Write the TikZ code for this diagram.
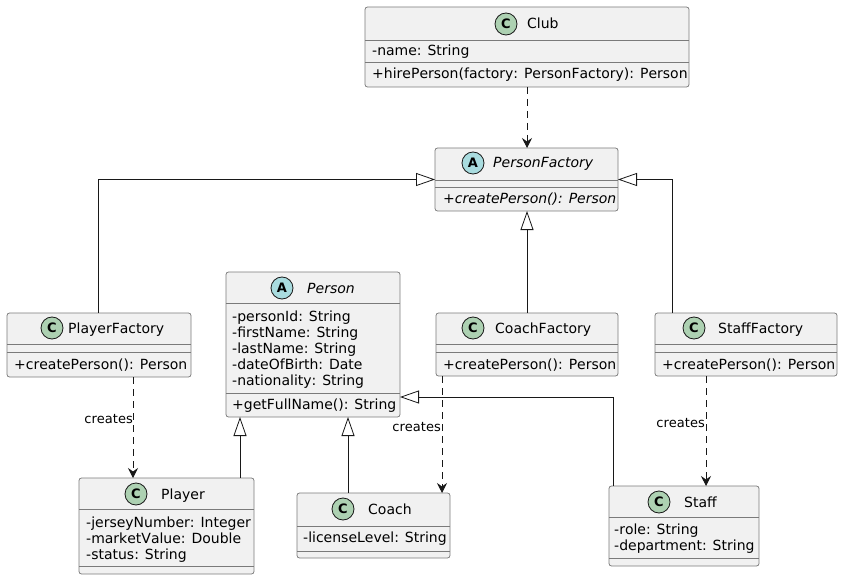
\documentclass[tikz,border=0pt]{standalone}
\usepackage{fontspec}
\setmainfont{DejaVu Sans}[Kerning=Off]
\usetikzlibrary{arrows.meta,calc}
\definecolor{boxfill}{HTML}{F1F1F1}
\definecolor{umlline}{HTML}{181818}
\definecolor{boxline}{HTML}{7A7A7A}
\definecolor{cfill}{HTML}{ADD1B2}
\definecolor{afill}{HTML}{A9DCDF}
\tikzset{
 umlbox/.style={draw=boxline, line width=0.75pt, fill=boxfill, rounded corners=2.5pt, anchor=north west, inner sep=0pt, outer sep=0pt},
 divider/.style={draw=boxline, line width=0.75pt},
 member/.style={anchor=base west, inner sep=0pt, font=\fontsize{14}{16}\selectfont, text=black},
 ititle/.style={anchor=base west, inner sep=0pt, font=\fontsize{14}{16}\selectfont, text=black},
 badge/.style={circle, draw=umlline, line width=0.8pt, minimum size=22pt, inner sep=0pt, font=\fontsize{13}{13}\bfseries\selectfont},
 cbadge/.style={badge, fill=cfill},
 abadge/.style={badge, fill=afill},
 gen/.style={draw=umlline, line width=0.8pt, -{Triangle[open, length=19pt, width=13pt, fill=white]}},
 dep/.style={draw=umlline, line width=0.8pt, dash pattern=on 7pt off 5pt, -{Stealth[length=10pt,width=10pt,inset=3.5pt]}},
 lbl/.style={anchor=base east, inner sep=0pt, font=\fontsize{13}{15}\selectfont, text=black},
}
\newcommand\umlclass[5]{\node[umlbox, minimum width=#4pt, minimum height=#5pt] (#1) at (#2,#3) {};}
\newcommand\umldiv[2]{\draw[divider] (#1.west |- 0,#2) -- (#1.east |- 0,#2);}
\begin{document}
\begin{tikzpicture}[x=1pt,y=-1pt]
\useasboundingbox (0,0) rectangle (843,580);
% boxes
\umlclass{club}{365}{7}{324}{80}
\umldiv{club}{40}\umldiv{club}{62}
\umlclass{pfac}{435}{148}{183}{63}
\umldiv{pfac}{180}\umldiv{pfac}{187}
\umlclass{person}{226}{272}{174}{145}
\umldiv{person}{303}\umldiv{person}{393}
\umlclass{playerf}{7}{313}{184}{64}
\umldiv{playerf}{344}\umldiv{playerf}{352}
\umlclass{coachf}{436}{313}{182}{63}
\umldiv{coachf}{344}\umldiv{coachf}{352}
\umlclass{stafff}{655}{313}{182}{63}
\umldiv{stafff}{344}\umldiv{stafff}{352}
\umlclass{player}{79}{478}{175}{96}
\umldiv{player}{509}\umldiv{player}{566}
\umlclass{coach}{297}{493}{153}{65}
\umldiv{coach}{526}\umldiv{coach}{551}
\umlclass{staff}{609}{486}{150}{80}
\umldiv{staff}{517}\umldiv{staff}{558}
% titles
\node[cbadge] (clubB) at (506,24) {C};
\node[ititle] (clubT) at (527,29) {Club};
\node[abadge] (pfacB) at (473,163) {A};
\node[ititle] (pfacT) at (493,168) {\itshape PersonFactory};
\node[abadge] (personB) at (282,288) {A};
\node[ititle] (personT) at (307,293) {\itshape Person};
\node[cbadge] (playerfB) at (52,328) {C};
\node[ititle] (playerfT) at (68,333) {PlayerFactory};
\node[cbadge] (coachfB) at (473,328) {C};
\node[ititle] (coachfT) at (495,333) {CoachFactory};
\node[cbadge] (stafffB) at (694,328) {C};
\node[ititle] (stafffT) at (718,333) {StaffFactory};
\node[cbadge] (staffB) at (659,502) {C};
\node[ititle] (staffT) at (684,507) {Staff};
\node[cbadge] (playerB) at (136,494) {C};
\node[ititle] (playerT) at (161,499) {Player};
\node[cbadge] (coachB) at (343,509) {C};
\node[ititle] (coachT) at (368,514) {Coach};
% members
\node[member] (clubM1) at (372,55.5) {-name: String};
\node[member] (clubM2) at (372,79) {+hirePerson(factory: PersonFactory): Person};
\node[member] (pfacM1) at (443,203.5) {\itshape +createPerson(): Person};
\node[member] (personM1) at (232,321.5) {-personId: String};
\node[member] (personM2) at (232,337.5) {-firstName: String};
\node[member] (personM3) at (232,353.5) {-lastName: String};
\node[member] (personM4) at (232,369.5) {-dateOfBirth: Date};
\node[member] (personM5) at (232,385.5) {-nationality: String};
\node[member] (personM6) at (232,409.5) {+getFullName(): String};
\node[member] (playerfM1) at (14,369.5) {+createPerson(): Person};
\node[member] (coachfM1) at (443,369.5) {+createPerson(): Person};
\node[member] (stafffM1) at (662,369.5) {+createPerson(): Person};
\node[member] (staffM1) at (614,534.5) {-role: String};
\node[member] (staffM2) at (614,550.5) {-department: String};
\node[member] (playerM1) at (86,527) {-jerseyNumber: Integer};
\node[member] (playerM2) at (86,543) {-marketValue: Double};
\node[member] (playerM3) at (86,559) {-status: String};
\node[member] (coachM1) at (303,542.5) {-licenseLevel: String};
% connectors
\draw[dep] (club.south -| 527,0) -- (pfac.north -| 527,0);
\draw[gen] (playerf.north -| 98,0) |- (pfac.west);
\draw[gen] (stafff.north -| 672,0) |- (pfac.east);
\draw[gen] (coachf.north -| 527,0) -- (pfac.south -| 527,0);
\draw[dep] (playerf.south -| 133,0) -- (player.north -| 133,0);
\draw[dep] (coachf.south -| 442,0) -- (coach.north -| 442,0);
\draw[dep] (stafff.south -| 706,0) -- (staff.north -| 706,0);
\draw[gen] (player.north -| 240,0) -- (person.south -| 240,0);
\draw[gen] (coach.north -| 348,0) -- (person.south -| 348,0);
\draw[gen] (staff.north -| 613,0) |- (person.east |- 0,397);
% labels
\node[lbl] (lbl1) at (133,423.5) {creates};
\node[lbl] (lbl2) at (441,431.5) {creates};
\node[lbl] (lbl3) at (705,427.5) {creates};
\end{tikzpicture}
\end{document}
